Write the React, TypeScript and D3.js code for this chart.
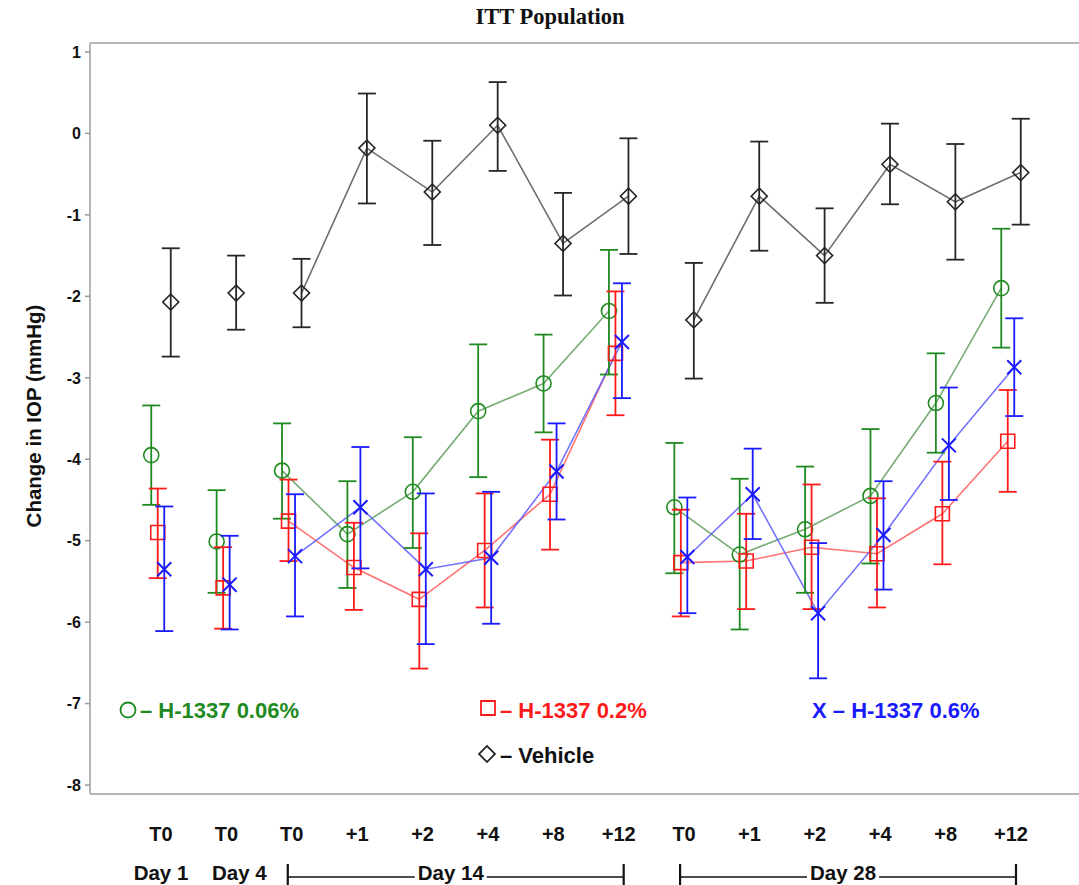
import React from 'react';
import * as d3 from 'd3';

const width = 1079;
const height = 885;

// x categories (hour after dose) and the visit each one belongs to
const categories = ['T0', 'T0', 'T0', '+1', '+2', '+4', '+8', '+12', 'T0', '+1', '+2', '+4', '+8', '+12'];
const visits = ['Day 1', 'Day 4', 'Day 14', 'Day 14', 'Day 14', 'Day 14', 'Day 14', 'Day 14',
  'Day 28', 'Day 28', 'Day 28', 'Day 28', 'Day 28', 'Day 28'];
const yTicks = [1, 0, -1, -2, -3, -4, -5, -6, -7, -8];

// H-1337 0.06%
const lowMean = [-3.95, -5.01, -4.14, -4.92, -4.40, -3.41, -3.07, -2.18, -4.59, -5.17, -4.86, -4.45, -3.31, -1.90];
const lowLower = [-4.56, -5.64, -4.73, -5.58, -5.09, -4.22, -3.67, -2.96, -5.40, -6.09, -5.64, -5.28, -3.92, -2.63];
const lowUpper = [-3.34, -4.38, -3.56, -4.27, -3.73, -2.59, -2.47, -1.43, -3.80, -4.24, -4.09, -3.63, -2.70, -1.17];

// H-1337 0.2%
const midMean = [-4.90, -5.58, -4.76, -5.33, -5.72, -5.12, -4.43, -2.70, -5.27, -5.25, -5.08, -5.16, -4.67, -3.78];
const midLower = [-5.46, -6.08, -5.25, -5.85, -6.57, -5.82, -5.11, -3.46, -5.93, -5.84, -5.84, -5.82, -5.29, -4.40];
const midUpper = [-4.36, -5.08, -4.25, -4.78, -4.91, -4.42, -3.76, -1.94, -4.62, -4.67, -4.31, -4.48, -4.03, -3.15];

// H-1337 0.6%
const highMean = [-5.35, -5.54, -5.19, -4.59, -5.35, -5.21, -4.15, -2.56, -5.20, -4.43, -5.89, -4.93, -3.83, -2.87];
const highLower = [-6.11, -6.09, -5.93, -5.34, -6.27, -6.02, -4.74, -3.25, -5.89, -4.98, -6.69, -5.60, -4.50, -3.47];
const highUpper = [-4.58, -4.94, -4.43, -3.85, -4.42, -4.40, -3.56, -1.84, -4.47, -3.87, -5.03, -4.27, -3.12, -2.27];

// Vehicle
const vehMean = [-2.07, -1.96, -1.96, -0.18, -0.72, 0.10, -1.35, -0.77, -2.29, -0.77, -1.50, -0.38, -0.84, -0.48];
const vehLower = [-2.74, -2.41, -2.38, -0.86, -1.37, -0.46, -1.99, -1.48, -3.01, -1.44, -2.08, -0.87, -1.55, -1.12];
const vehUpper = [-1.41, -1.50, -1.54, 0.49, -0.09, 0.63, -0.73, -0.06, -1.59, -0.10, -0.92, 0.12, -0.13, 0.18];

const series = [
  { key: 'low', label: 'H-1337 0.06%', color: '#1f8a1f', line: '#5e9e5e', symbol: d3.symbolCircle, size: 177, rotate: 0, mean: lowMean, lower: lowLower, upper: lowUpper },
  { key: 'mid', label: 'H-1337 0.2%', color: '#ff1a1a', line: '#ff5a5a', symbol: d3.symbolSquare, size: 196, rotate: 0, mean: midMean, lower: midLower, upper: midUpper },
  { key: 'high', label: 'H-1337 0.6%', color: '#1a1aff', line: '#5a5aff', symbol: d3.symbolX, size: 130, rotate: 0, mean: highMean, lower: highLower, upper: highUpper },
  { key: 'veh', label: 'Vehicle', color: '#262626', line: '#555555', symbol: d3.symbolSquare, size: 128, rotate: 45, mean: vehMean, lower: vehLower, upper: vehUpper },
];

const sans = '"Liberation Sans", Arial, sans-serif';

export default function App() {
  const left = 90;
  const top = 43;
  const bottom = 794;

  const x = d3.scalePoint<number>().domain(d3.range(categories.length)).range([161, 1011]);
  const dodge = d3.scalePoint<string>().domain(series.map(s => s.key)).range([-9.75, 9.75]);
  const y = d3.scaleLinear().domain([-8.11, 1.11]).range([bottom, top]);

  const groups = d3.groups(d3.range(categories.length), i => visits[i]);
  const cap = 9;

  const bracket = (name: string) => {
    const idx = groups.find(g => g[0] === name)![1];
    return { x0: x(idx[0])! - 4, x1: x(idx[idx.length - 1])! + 5 };
  };
  const d14 = bracket('Day 14');
  const d28 = bracket('Day 28');

  const legendSymbol = (s: typeof series[number], cx: number, cy: number) => (
    <path
      d={d3.symbol(s.symbol, s.size)()!}
      transform={`translate(${cx},${cy}) rotate(${s.rotate})`}
      fill="none"
      stroke={s.color}
      strokeWidth={1.8}
    />
  );

  return (
    <svg width={width} height={height} style={{ position: 'absolute', left: 0, top: 0, background: '#fff' }}
      fontFamily={sans}>
      <text x={550} y={24} textAnchor="middle" fontFamily='"Liberation Serif", "Times New Roman", serif'
        fontWeight="bold" fontSize={22.5} fill="#111">ITT Population</text>

      {/* frame */}
      <line x1={left} x2={width} y1={top} y2={top} stroke="#b4b6b8" strokeWidth={2} />
      <line x1={left} x2={width} y1={bottom} y2={bottom} stroke="#b4b6b8" strokeWidth={2} />
      <line x1={left} x2={left} y1={top} y2={bottom} stroke="#b4b6b8" strokeWidth={2} />

      {yTicks.map(t => (
        <g key={t} transform={`translate(0,${y(t)})`}>
          <line x1={left - 5} x2={left} stroke="#9a9a9a" strokeWidth={1.5} />
          <text x={81} dy="0.36em" textAnchor="end" fontSize={16} fontWeight="bold" fill="#111">{t}</text>
        </g>
      ))}
      <text transform={`translate(41,416) rotate(-90)`} textAnchor="middle" fontSize={20.5} fontWeight="bold" fill="#111">
        Change in IOP (mmHg)
      </text>

      {/* connecting lines within each visit */}
      {series.map(s => (
        <g key={s.key}>
          {groups.filter(g => g[1].length > 1).map(([name, idx]) => (
            <path key={name}
              d={d3.line<number>().x(i => x(i)! + dodge(s.key)!).y(i => y(s.mean[i]))(idx)!}
              fill="none" stroke={s.line} strokeWidth={1.6} strokeOpacity={0.85} />
          ))}
        </g>
      ))}

      {/* error bars and markers */}
      {[3, 0, 1, 2].map(k => series[k]).map(s => (
        <g key={s.key} stroke={s.color} fill="none">
          {s.mean.map((m, i) => {
            const cx = x(i)! + dodge(s.key)!;
            return (
              <g key={i}>
                <line x1={cx} x2={cx} y1={y(s.lower[i])} y2={y(s.upper[i])} strokeWidth={1.8} />
                <line x1={cx - cap} x2={cx + cap} y1={y(s.lower[i])} y2={y(s.lower[i])} strokeWidth={1.8} />
                <line x1={cx - cap} x2={cx + cap} y1={y(s.upper[i])} y2={y(s.upper[i])} strokeWidth={1.8} />
                <path d={d3.symbol(s.symbol, s.size)()!}
                  transform={`translate(${cx},${y(m)}) rotate(${s.rotate})`}
                  strokeWidth={s.key === 'high' ? 2 : 1.6} />
              </g>
            );
          })}
        </g>
      ))}

      {/* legend */}
      {legendSymbol(series[0], 128, 710)}
      <text x={140} y={718} fontSize={22} fontWeight="bold" fill={series[0].color}>– {series[0].label}</text>
      {legendSymbol(series[1], 488, 708)}
      <text x={500} y={718} fontSize={22} fontWeight="bold" fill={series[1].color}>– {series[1].label}</text>
      <text x={812} y={718} fontSize={22} fontWeight="bold" fill={series[2].color}>X – {series[2].label}</text>
      {legendSymbol(series[3], 487, 754)}
      <text x={500} y={763} fontSize={22} fontWeight="bold" fill="#111">– {series[3].label}</text>

      {/* x labels */}
      {categories.map((c, i) => (
        <text key={i} x={x(i)} y={841} textAnchor="middle" fontSize={20} fontWeight="bold" fill="#111">{c}</text>
      ))}
      <text x={x(0)} y={880} textAnchor="middle" fontSize={20.5} fontWeight="bold" fill="#111">Day 1</text>
      <text x={x(1)! + 13} y={880} textAnchor="middle" fontSize={20.5} fontWeight="bold" fill="#111">Day 4</text>
      {[{ b: d14, label: 'Day 14' }, { b: d28, label: 'Day 28' }].map(({ b, label }) => {
        const mid = (b.x0 + b.x1) / 2 - 5;
        const half = 36;
        return (
          <g key={label} stroke="#111">
            <line x1={b.x0} x2={b.x0} y1={864} y2={885} strokeWidth={2.2} />
            <line x1={b.x1} x2={b.x1} y1={864} y2={885} strokeWidth={2.2} />
            <line x1={b.x0} x2={mid - half} y1={877} y2={877} strokeWidth={1.3} />
            <line x1={mid + half} x2={b.x1} y1={877} y2={877} strokeWidth={1.3} />
            <text x={mid} y={880} textAnchor="middle" fontSize={20.5} fontWeight="bold" fill="#111" stroke="none">{label}</text>
          </g>
        );
      })}
    </svg>
  );
}
